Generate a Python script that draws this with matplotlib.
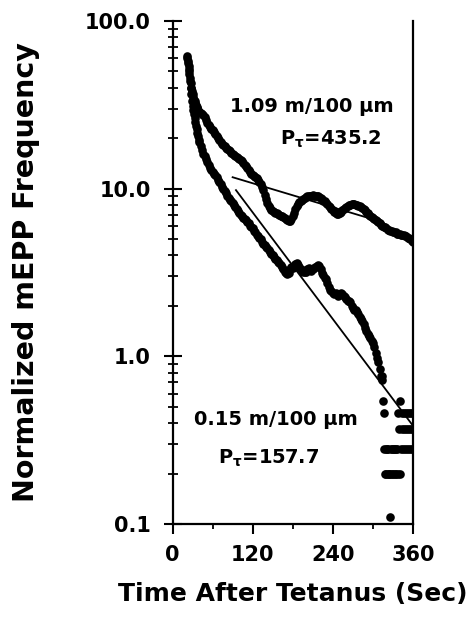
import matplotlib
matplotlib.use("Agg")
import matplotlib.pyplot as plt
from matplotlib.ticker import FixedLocator, LogLocator, NullFormatter

plt.rcParams["font.family"] = ["DejaVu Sans"]
plt.rcParams["mathtext.fontset"] = "dejavusans"
plt.rcParams["mathtext.default"] = "bf"

# ---- data: normalized mEPP frequency after tetanus ----
# 1.09 m/100 um terminal
t_high = list(range(22, 40)) + list(range(40, 361, 2))
f_high = [
    62, 58, 54, 50, 46, 42.5, 40, 38, 36.5, 35, 34, 33.2, 32.3, 31.5, 30.8, 30.1, 29.5, 28.8,
    28.6, 28.3, 28.0, 27.6, 26.6, 25.6, 24.8, 24.1, 23.4, 22.8,
    22.3, 21.8, 21.2, 20.6, 20.0, 19.5, 19.0, 18.5, 18.1, 17.9,
    17.6, 17.3, 17.0, 16.7, 16.4, 16.2, 15.9, 15.6, 15.4, 15.2,
    15.1, 14.9, 14.6, 14.3, 13.9, 13.6, 13.2, 12.9, 12.6, 12.3,
    12.1, 11.9, 11.7, 11.5, 11.3, 11.0, 10.7, 10.3, 9.8, 9.2,
    8.7, 8.2, 7.9, 7.7, 7.5, 7.4, 7.3, 7.2, 7.2, 7.1,
    7.0, 6.9, 6.9, 6.8, 6.7, 6.6, 6.5, 6.4, 6.4, 6.6,
    6.9, 7.2, 7.6, 7.9, 8.1, 8.3, 8.5, 8.6, 8.7, 8.8,
    8.9, 9.0, 9.0, 9.1, 9.1, 9.2, 9.1, 9.1, 9.0, 9.0,
    8.9, 8.8, 8.7, 8.5, 8.4, 8.2, 8.1, 7.9, 7.8, 7.6,
    7.5, 7.3, 7.2, 7.1, 7.1, 7.2, 7.3, 7.5, 7.6, 7.7,
    7.8, 7.9, 8.0, 8.0, 8.1, 8.1, 8.1, 8.0, 8.0, 7.9,
    7.9, 7.8, 7.7, 7.6, 7.5, 7.3, 7.2, 7.0, 6.9, 6.8,
    6.7, 6.6, 6.5, 6.4, 6.3, 6.2, 6.1, 6.0, 5.9, 5.9,
    5.8, 5.7, 5.7, 5.6, 5.6, 5.5, 5.5, 5.5, 5.4, 5.4,
    5.4, 5.3, 5.3, 5.3, 5.2, 5.2, 5.1, 5.1, 5.0, 4.9,
    4.8,
]

# 0.15 m/100 um terminal
t_low = list(range(22, 40)) + list(range(40, 313, 2)) + list(range(313, 361))
f_low = [
    60, 56, 52, 48, 44, 40, 36.5, 33.5, 31, 29.5, 28, 26.5, 25, 23.8, 22.6, 21.5, 20.5, 19.6,
    19.0, 18.0, 17.0, 16.2, 15.6, 15.0, 14.4, 13.8, 13.3, 12.9,
    12.6, 12.3, 12.0, 11.7, 11.3, 10.9, 10.6, 10.3, 10.0, 9.7,
    9.4, 9.1, 8.8, 8.6, 8.4, 8.2, 8.0, 7.8, 7.6, 7.4,
    7.2, 7.0, 6.9, 6.7, 6.6, 6.5, 6.3, 6.2, 6.0, 5.9,
    5.8, 5.6, 5.5, 5.3, 5.2, 5.1, 5.0, 4.8, 4.7, 4.6,
    4.5, 4.4, 4.3, 4.2, 4.1, 4.0, 3.9, 3.8, 3.75, 3.65,
    3.6, 3.5, 3.4, 3.3, 3.2, 3.15, 3.1, 3.15, 3.3, 3.4,
    3.35, 3.45, 3.55, 3.6, 3.5, 3.4, 3.3, 3.25, 3.2, 3.2,
    3.2, 3.3, 3.35, 3.3, 3.25, 3.3, 3.35, 3.4, 3.45, 3.5,
    3.45, 3.3, 3.15, 3.05, 2.95, 2.9, 2.75, 2.6, 2.5, 2.45,
    2.4, 2.35, 2.4, 2.35, 2.3, 2.35, 2.4, 2.35, 2.3, 2.25,
    2.2, 2.15, 2.15, 2.1, 2.0, 1.95, 1.9, 1.88, 1.85, 1.78,
    1.72, 1.68, 1.62, 1.55, 1.48, 1.42, 1.36, 1.32, 1.28, 1.24,
    1.2, 1.14, 1.05, 0.98, 0.92, 0.84, 0.76,
    0.76, 0.72, 0.54, 0.46, 0.28, 0.2, 0.28, 0.2, 0.28, 0.2,
    0.28, 0.2, 0.11, 0.2, 0.28, 0.2, 0.28, 0.2, 0.28, 0.28,
    0.2, 0.28, 0.2, 0.28, 0.2, 0.46, 0.37, 0.2, 0.54, 0.28,
    0.46, 0.37, 0.28, 0.46, 0.37, 0.28, 0.46, 0.37, 0.28, 0.46,
    0.37, 0.28, 0.46, 0.37, 0.28, 0.46, 0.37, 0.28,
]

# exponential fits (straight on the log axis), end points
fit_high_t = [90, 298]
fit_high_f = [11.7, 6.6]
fit_low_t = [95, 359]
fit_low_f = [9.8, 0.39]

y_ticks = [0.1, 1.0, 10.0, 100.0]
y_tick_labels = ["0.1", "1.0", "10.0", "100.0"]
x_ticks = [0, 120, 240, 360]
x_minor = [60, 180, 300]

# ---- figure ----
W, H = 474, 620
fig = plt.figure(figsize=(W / 100, H / 100), dpi=100)
ax = fig.add_axes([172.5 / W, 1 - 524 / H, 240.5 / W, 503 / H])

ax.semilogy(t_high, f_high, "o", color="black", ms=6.2, mew=0)
ax.semilogy(t_low, f_low, "o", color="black", ms=6.2, mew=0)
ax.semilogy(fit_high_t, fit_high_f, "-", color="black", lw=1.3)
ax.semilogy(fit_low_t, fit_low_f, "-", color="black", lw=1.3)

ax.set_xlim(0, 360)
ax.set_ylim(0.1, 100)

for side in ("left", "bottom", "right"):
    ax.spines[side].set_linewidth(1.6)
ax.spines["top"].set_visible(False)

ax.yaxis.set_major_locator(FixedLocator(y_ticks))
ax.set_yticklabels(y_tick_labels)
ax.yaxis.set_minor_locator(LogLocator(base=10, subs=range(2, 10)))
ax.yaxis.set_minor_formatter(NullFormatter())
ax.tick_params(axis="y", which="major", direction="inout", length=13, width=1.5, pad=9)
ax.tick_params(axis="y", which="minor", direction="inout", length=6.5, width=1.3)

ax.xaxis.set_major_locator(FixedLocator(x_ticks))
ax.xaxis.set_minor_locator(FixedLocator(x_minor))
ax.tick_params(axis="x", which="major", direction="out", length=7, width=1.5, pad=8)
ax.tick_params(axis="x", which="minor", direction="out", length=3.5, width=1.3)

for lab in ax.get_xticklabels() + ax.get_yticklabels():
    lab.set_fontsize(15)
    lab.set_fontweight("bold")

fig.text(26 / W, 1 - 272 / H, "Normalized mEPP Frequency", rotation=90,
         ha="center", va="center", fontsize=20.5, fontweight="bold")
fig.text(293 / W, 1 - 594 / H, "Time After Tetanus (Sec)",
         ha="center", va="center", fontsize=18, fontweight="bold")

ax.text(0.58, 0.831, "1.09 m/100 μm", transform=ax.transAxes,
        ha="center", va="center", fontsize=14, fontweight="bold")
ax.text(0.659, 0.764, r"P$_{\tau}$=435.2", transform=ax.transAxes,
        ha="center", va="center", fontsize=14, fontweight="bold")
ax.text(0.43, 0.207, "0.15 m/100 μm", transform=ax.transAxes,
        ha="center", va="center", fontsize=14, fontweight="bold")
ax.text(0.399, 0.13, r"P$_{\tau}$=157.7", transform=ax.transAxes,
        ha="center", va="center", fontsize=14, fontweight="bold")

fig.savefig("out.png", dpi=100)
